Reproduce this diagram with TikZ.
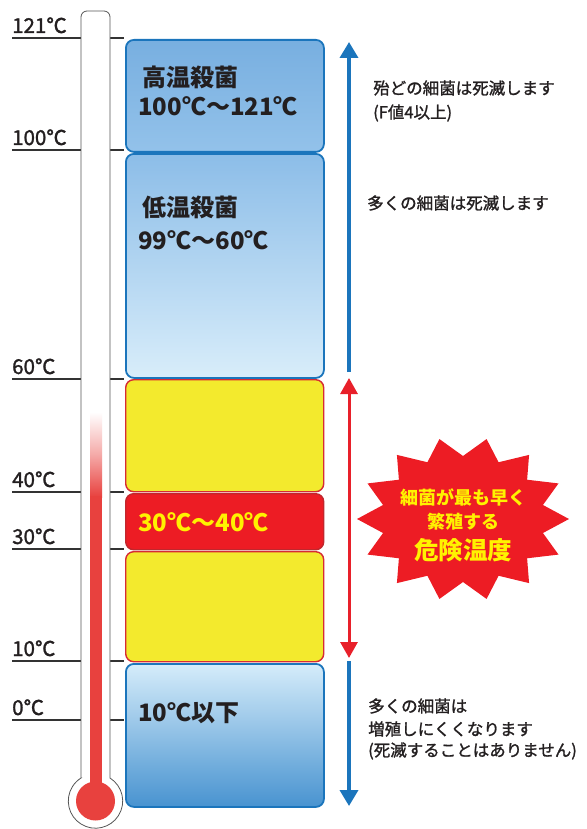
\documentclass[tikz,border=0pt]{standalone}
\usepackage{fontspec}
\setmainfont{Noto Sans CJK JP}
\newfontfamily\jpmed[BoldFont={Noto Sans CJK JP}, BoldFeatures={FakeBold=1.3}]{Noto Sans CJK JP}
\usetikzlibrary{arrows.meta}
\definecolor{txt}{HTML}{231F20}
\definecolor{tickc}{HTML}{333333}
\definecolor{thermoc}{HTML}{555555}
\definecolor{thermred}{HTML}{E8413E}
\definecolor{bdblue}{HTML}{1B75BC}
\definecolor{bA}{HTML}{78AFE0}
\definecolor{bB}{HTML}{93C2EA}
\definecolor{bC}{HTML}{8CBDE8}
\definecolor{bD}{HTML}{D8EDFA}
\definecolor{bE}{HTML}{D5ECFA}
\definecolor{bF}{HTML}{4893D0}
\definecolor{ylw}{HTML}{F3EA2D}
\definecolor{ylwbd}{HTML}{D62B34}
\definecolor{redbox}{HTML}{ED1C24}
\definecolor{redbd}{HTML}{C1272D}
\definecolor{ytext}{HTML}{FFF200}
\definecolor{arrred}{HTML}{E8202A}
\begin{document}
\begin{tikzpicture}[x=1pt,y=-1pt,
  lbl/.style={anchor=base west, inner sep=0pt, font=\jpmed\bfseries\fontsize{20.5}{20.5}\selectfont, text=txt},
  tickline/.style={draw=tickc, line width=1.2pt},
  zone/.style={rounded corners=8pt, minimum width=198pt, anchor=north west, inner sep=0pt},
  bluezone/.style={zone, draw=bdblue, line width=1.8pt},
  ylwzone/.style={zone, draw=ylwbd, line width=1.4pt, fill=ylw},
  boxtxt/.style={anchor=west, inner sep=0pt, font=\bfseries\fontsize{24}{24}\selectfont, text=txt},
  note/.style={anchor=west, inner sep=0pt, font=\jpmed\bfseries\fontsize{16.5}{16.5}\selectfont, text=txt},
  startxt/.style={anchor=center, inner sep=0pt, font=\bfseries\fontsize{18}{18}\selectfont, text=ytext},
  tip/.style={-{Triangle[length=16pt,width=18pt]}},
  bluearrow/.style={draw=bdblue, line width=3.5pt},
  redarrow/.style={draw=arrred, line width=3pt}
]
\useasboundingbox (0,0) rectangle (586,829);
% scale ticks and labels
\foreach \v/\y in {121/38,100/150,60/379,40/492,30/549,10/661,0/720} {
  \coordinate (ta\v) at (12,\y);
  \coordinate (tb\v) at (124,\y);
  \draw[tickline] (ta\v) -- (tb\v);
  \node[lbl] (L\v) at (12,\y-5) {\v ℃};
}
% thermometer
\draw[fill=white, draw=thermoc, line width=0.8pt]
  (81,778) -- (81,17) arc[start angle=180, end angle=270, radius=6]
  -- (104,11) arc[start angle=270, end angle=360, radius=6]
  -- (110,778) arc[start angle=-57.8, end angle=237.8, radius=27.2] -- cycle;
\shade[top color=white, bottom color=thermred, middle color=thermred!45] (90,412) rectangle (102,497);
\fill[thermred] (90,496) rectangle (102,790);
\fill[thermred] (95.5,801) circle (19.5);
% zones
\node[bluezone, top color=bA, bottom color=bB, minimum height=112pt] (z1) at (125,39) {};
\node[bluezone, top color=bC, bottom color=bD, minimum height=224pt] (z2) at (125,153) {};
\node[ylwzone, minimum height=112pt] (z3) at (125,379) {};
\node[zone, draw=redbd, line width=1.4pt, fill=redbox, minimum height=56pt] (z4) at (125,493) {};
\node[ylwzone, minimum height=110pt] (z5) at (125,551) {};
\node[bluezone, top color=bE, bottom color=bF, minimum height=143pt] (z6) at (125,663) {};
% zone texts
\node[boxtxt] (t1a) at (142,77) {高温殺菌};
\node[boxtxt] (t1b) at (138,106) {100℃～121℃};
\node[boxtxt] (t2a) at (142,207) {低温殺菌};
\node[boxtxt] (t2b) at (138,240) {99℃～60℃};
\node[boxtxt, text=ytext] (t4) at (138,522) {30℃～40℃};
\node[boxtxt] (t6) at (138,713) {10℃以下};
% arrows
\coordinate (a1s) at (349,372);
\coordinate (a1e) at (349,42);
\draw[bluearrow, tip] (a1s) -- (a1e);
\coordinate (a2s) at (349,378);
\coordinate (a2e) at (349,658);
\draw[redarrow, {Triangle[length=16pt,width=17pt]}-{Triangle[length=16pt,width=17pt]}] (a2s) -- (a2e);
\coordinate (a3s) at (349,661);
\coordinate (a3e) at (349,806);
\draw[bluearrow, tip] (a3s) -- (a3e);
% notes
\node[note] (n1) at (373,88) {殆どの細菌は死滅します};
\node[note] (n2) at (373,113) {(F値4以上)};
\node[note] (n3) at (367,203) {多くの細菌は死滅します};
\node[note] (n4) at (368,706) {多くの細菌は};
\node[note] (n5) at (368,729) {増殖しにくくなります};
\node[note] (n6) at (368,751) {(死滅することはありません)};
% starburst
\fill[redbox] plot[variable=\k, samples at={0,...,27}]
  ({463+ifthenelse(mod(\k,2)==0,106,82)*cos(\k*360/28)},
   {519+ifthenelse(mod(\k,2)==0,82,63)*sin(\k*360/28)}) -- cycle;
\node[startxt] (s1) at (463,497) {細菌が最も早く};
\node[startxt] (s2) at (463,522) {繁殖する};
\node[startxt, font=\bfseries\fontsize{24.5}{24.5}\selectfont] (s3) at (463,550) {危険温度};
\end{tikzpicture}
\end{document}
